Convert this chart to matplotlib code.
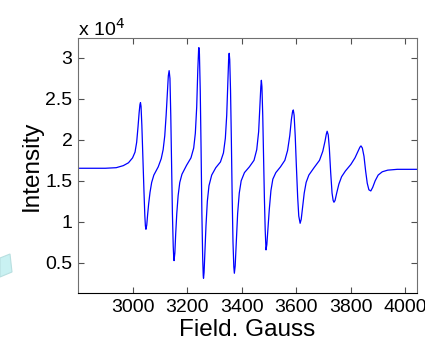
import matplotlib
matplotlib.use("Agg")
import matplotlib.pyplot as plt
from matplotlib.patches import Polygon

plt.rcParams['font.family'] = ['Liberation Sans', 'DejaVu Sans']

# EPR spectrum: field (G) and intensity (x 10^4)
field = [2800, 2900, 2940, 2966, 2985, 3000, 3009, 3015, 3020, 3024, 3027, 3029,
         3031, 3034, 3038, 3042, 3045, 3047, 3049, 3052, 3055, 3059, 3064, 3070,
         3078, 3094, 3105, 3112, 3118, 3123, 3127, 3131, 3134, 3137, 3140, 3143,
         3146, 3149, 3151, 3152, 3155, 3158, 3162, 3167, 3173, 3181, 3198, 3214,
         3224, 3230, 3235, 3239, 3242, 3243, 3245, 3248, 3251, 3254, 3257, 3259,
         3260, 3262, 3265, 3269, 3274, 3280, 3290, 3305, 3322, 3333, 3340, 3345,
         3349, 3352, 3354, 3356, 3359, 3362, 3365, 3368, 3371, 3373, 3376, 3380,
         3385, 3391, 3398, 3410, 3428, 3445, 3455, 3462, 3467, 3470, 3472, 3474,
         3477, 3480, 3483, 3486, 3489, 3492, 3496, 3501, 3507, 3514, 3525, 3542,
         3558, 3568, 3576, 3582, 3586, 3589, 3592, 3596, 3600, 3605, 3609, 3614,
         3618, 3623, 3629, 3636, 3646, 3665, 3685, 3697, 3705, 3710, 3713, 3717,
         3721, 3726, 3731, 3735, 3738, 3742, 3748, 3756, 3766, 3780, 3800, 3815,
         3826, 3833, 3837, 3842, 3848, 3854, 3860, 3866, 3873, 3880, 3889, 3900,
         3915, 3935, 3970, 4042]
intensity = [1.653, 1.653, 1.66, 1.685, 1.72, 1.78, 1.85, 1.97, 2.16, 2.33, 2.43, 2.455,
             2.41, 2.18, 1.75, 1.35, 1.07, 0.95, 0.908, 0.96, 1.08, 1.22, 1.36, 1.48,
             1.57, 1.67, 1.77, 1.88, 2.05, 2.3, 2.55, 2.78, 2.845, 2.75, 2.3, 1.7,
             1.1, 0.7, 0.55, 0.525, 0.62, 0.85, 1.1, 1.32, 1.48, 1.58, 1.69, 1.78,
             1.9, 2.08, 2.4, 2.85, 3.1, 3.126, 3.05, 2.6, 1.9, 1.1, 0.55, 0.34,
             0.31, 0.38, 0.62, 0.95, 1.25, 1.44, 1.57, 1.66, 1.73, 1.84, 2.02, 2.3,
             2.7, 2.98, 3.057, 2.98, 2.6, 2.0, 1.3, 0.75, 0.45, 0.371, 0.46, 0.75,
             1.1, 1.35, 1.5, 1.6, 1.67, 1.75, 1.88, 2.1, 2.45, 2.65, 2.727, 2.65,
             2.3, 1.8, 1.3, 0.9, 0.656, 0.72, 0.92, 1.15, 1.38, 1.52, 1.6, 1.67,
             1.75, 1.87, 2.05, 2.25, 2.34, 2.365, 2.3, 2.05, 1.7, 1.3, 1.07, 0.981,
             1.03, 1.18, 1.35, 1.48, 1.57, 1.66, 1.75, 1.86, 1.98, 2.07, 2.105, 2.06,
             1.9, 1.6, 1.35, 1.26, 1.238, 1.26, 1.35, 1.46, 1.55, 1.62, 1.7, 1.78,
             1.86, 1.91, 1.926, 1.9, 1.8, 1.62, 1.47, 1.39, 1.376, 1.42, 1.5, 1.57,
             1.61, 1.63, 1.64, 1.64]

xticks = [3000, 3200, 3400, 3600, 3800, 4000]
yticks = [0.5, 1, 1.5, 2, 2.5, 3]
ytick_labels = ['0.5', '1', '1.5', '2', '2.5', '3']

fig = plt.figure(figsize=(4.25, 3.38), dpi=100)
ax = fig.add_axes([0.1835, 0.1322, 0.7975, 0.7545])

ax.plot(field, intensity, color='#0000ff', linewidth=0.9)

ax.set_xlim(2800, 4042)
ax.set_ylim(0.126, 3.24)
ax.set_xticks(xticks)
ax.set_xticklabels([str(t) for t in xticks])
ax.set_yticks(yticks)
ax.set_yticklabels(ytick_labels)
ax.tick_params(direction='in', top=True, right=True, length=4, width=0.8,
               labelsize=14, colors='#505050', labelcolor='black', pad=4)
for side in ['left', 'top', 'right']:
    ax.spines[side].set_color('#707070')
ax.spines['bottom'].set_color('black')

ax.set_xlabel('Field. Gauss', fontsize=17.5, labelpad=2)
ax.set_ylabel('Intensity', fontsize=17.5, labelpad=2)
ax.text(0.0, 0.995, r'x 10$^4$', transform=ax.transAxes, fontsize=14,
        ha='left', va='bottom')

# light cyan slide decoration at the lower left edge
pts = [[0, 258], [10, 254], [12, 272], [0, 277]]
deco = Polygon([[x / 100, (338 - y) / 100] for x, y in pts], closed=True,
               transform=fig.dpi_scale_trans, facecolor='#c9f1f2',
               edgecolor='#b8dfe0', linewidth=0.8)
fig.patches.append(deco)

fig.savefig('out.png', dpi=100)
